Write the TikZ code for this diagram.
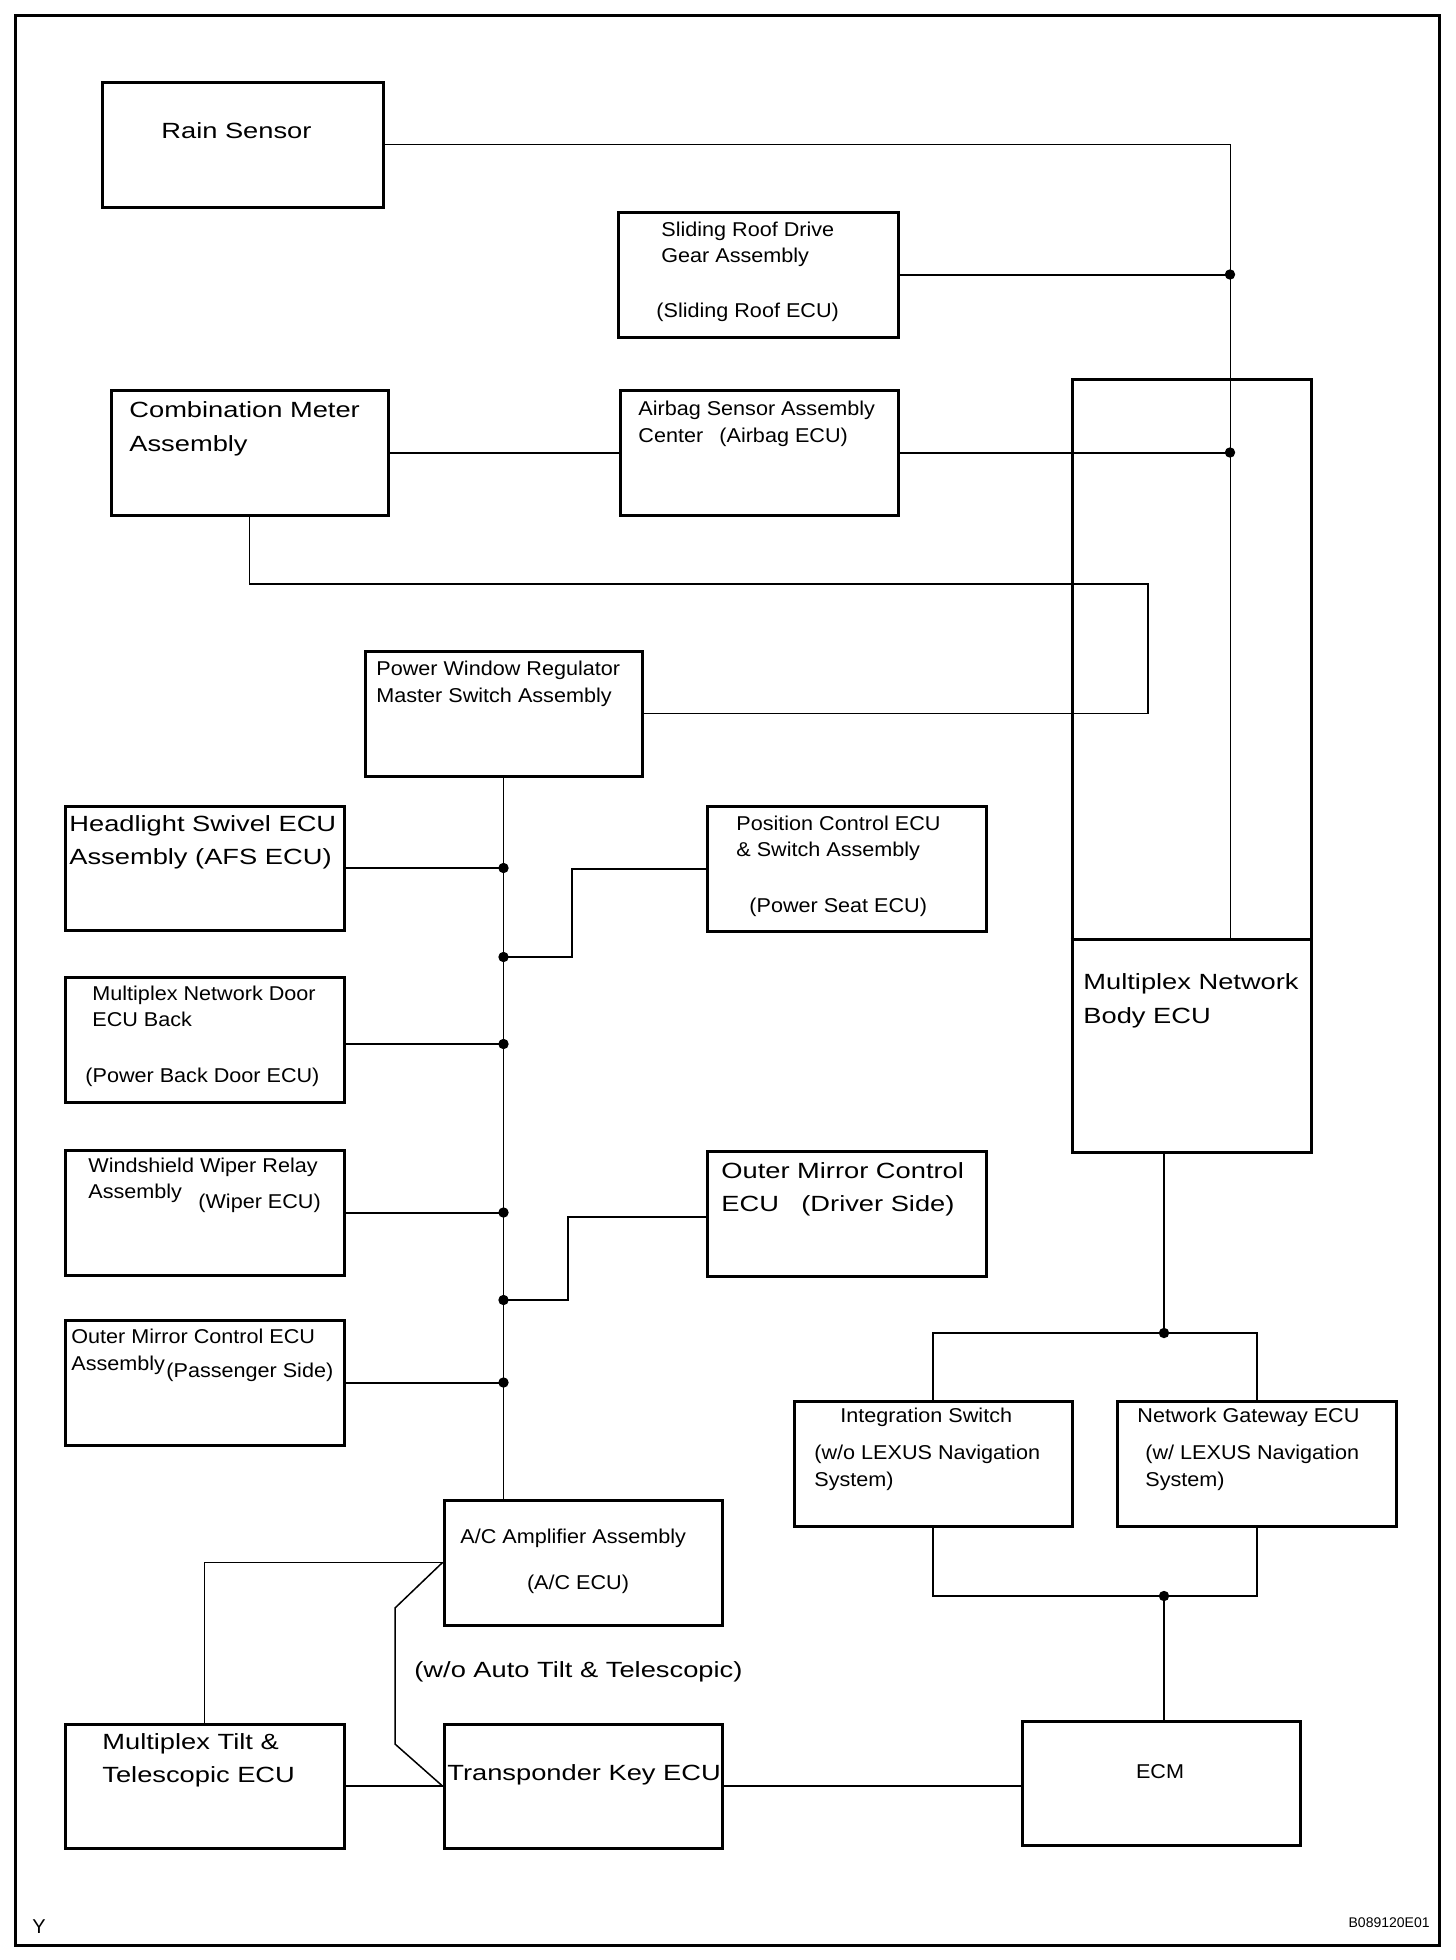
\documentclass[tikz,border=0pt]{standalone}
\usepackage{fontspec}
\setmainfont{Liberation Sans}
\newfontfamily\smallf{Liberation Sans}[FakeStretch=1.08]
\newfontfamily\largef{Liberation Sans}[FakeStretch=1.24]
\usetikzlibrary{fit}
\tikzset{
  box/.style={draw, line width=1.5pt, inner sep=0pt},
  thinw/.style={line width=0.5pt},
  medw/.style={line width=1pt},
  smt/.style={font={\smallf\fontsize{10pt}{12pt}\selectfont}, anchor=base west, inner sep=0pt},
  lgt/.style={font={\largef\fontsize{11pt}{13pt}\selectfont}, anchor=base west, inner sep=0pt},
  dotc/.style={fill=black}
}
\newcommand\stx[4]{\node[smt] (#1) at (#2,#3+7) {#4};}
\newcommand\ltx[4]{\node[lgt] (#1) at (#2,#3+8) {#4};}
\newcommand\jdot[1]{\fill[dotc] (#1) circle (2.6pt);}
\begin{document}
\begin{tikzpicture}[x=0.5pt,y=-0.5pt]
\useasboundingbox (0,0) rectangle (1456,1960);
\draw[line width=1.5pt] (15,15) rectangle (1439,1945);
% boxes
\node[box, fit={(102,82) (383,207)}] (rain) {};
\node[box, fit={(618,212) (898,337)}] (slide) {};
\node[box, fit={(111,390) (388,515)}] (comb) {};
\node[box, fit={(620,390) (898,515)}] (airbag) {};
\node[box, fit={(1072,379) (1311,1152)}] (body) {};
\node[box, fit={(365,651) (642,776)}] (pw) {};
\node[box, fit={(65,806) (344,930)}] (head) {};
\node[box, fit={(707,806) (986,931)}] (pos) {};
\node[box, fit={(65,977) (344,1102)}] (door) {};
\node[box, fit={(65,1150) (344,1275)}] (wiper) {};
\node[box, fit={(707,1151) (986,1276)}] (omd) {};
\node[box, fit={(65,1320) (344,1445)}] (omp) {};
\node[box, fit={(444,1500) (722,1625)}] (ac) {};
\node[box, fit={(794,1401) (1072,1526)}] (integ) {};
\node[box, fit={(1117,1401) (1396,1526)}] (gate) {};
\node[box, fit={(65,1724) (344,1848)}] (tilt) {};
\node[box, fit={(444,1724) (722,1848)}] (trans) {};
\node[box, fit={(1022,1721) (1300,1845)}] (ecm) {};
% coordinates
\coordinate (split) at (1190,939);
\coordinate (vtop) at (1230,939);
\coordinate (c1) at (1148,584);
\coordinate (pj) at (572,957);
\coordinate (dj) at (300,1044);
\coordinate (oy) at (800,1217);
\coordinate (oj) at (568,1300);
\coordinate (bj) at (1164,1333);
\coordinate (ej) at (1164,1596);
\coordinate (d1) at (395,1608);
\coordinate (d2) at (395,1744);
% body split line
\draw[line width=1.5pt] (body.west |- split) -- (body.east |- split);
% connectors
\draw[thinw] (rain.east) -| (vtop);
\draw[medw] (slide.east) -- (slide.east -| vtop);
\draw[medw] (comb.east) -- (airbag.west);
\draw[medw] (airbag.east) -- (airbag.east -| vtop);
\draw[line width=0.75pt] (comb.south) |- (c1) |- (pw.east);
\draw[thinw] (pw.south) -- (pw.south |- ac.north);
\draw[medw] (head.east) -- (head.east -| pw.south);
\draw[medw] (pos.west) -| (pj) -- (pj -| pw.south);
\draw[medw] (door.east |- dj) -- (dj -| pw.south);
\draw[medw] (wiper.east) -- (wiper.east -| pw.south);
\draw[medw] (omd.west |- oy) -| (oj) -- (oj -| pw.south);
\draw[medw] (omp.east) -- (omp.east -| pw.south);
\draw[medw] (body.south -| bj) -- (bj);
\draw[medw] (integ.north) |- (bj) -| (gate.north);
\draw[medw] (integ.south) |- (ej) -| (gate.south);
\draw[medw] (ej) -- (ej |- ecm.north);
\draw[thinw] (tilt.north) |- (ac.west);
\draw[line width=0.75pt] (ac.west) -- (d1) -- (d2) -- (trans.west);
\draw[medw] (tilt.east) -- (trans.west);
\draw[medw] (trans.east) -- (trans.east -| ecm.west);
% dots
\jdot{slide.east -| vtop}
\jdot{airbag.east -| vtop}
\jdot{head.east -| pw.south}
\jdot{pj -| pw.south}
\jdot{dj -| pw.south}
\jdot{wiper.east -| pw.south}
\jdot{oj -| pw.south}
\jdot{omp.east -| pw.south}
\jdot{bj}
\jdot{ej}
% texts
\ltx{t1}{161}{130}{Rain Sensor}
\stx{t2}{661}{229}{Sliding Roof Drive}
\stx{t3}{661}{255}{Gear Assembly}
\stx{t4}{656}{310}{(Sliding Roof ECU)}
\ltx{t5}{129}{409}{Combination Meter}
\ltx{t6}{129}{443}{Assembly}
\stx{t7}{638}{408}{Airbag Sensor Assembly}
\stx{t8}{638}{435}{Center}
\stx{t9}{719}{435}{(Airbag ECU)}
\ltx{t10}{1083}{981}{Multiplex Network}
\ltx{t11}{1083}{1015}{Body ECU}
\stx{t12}{376}{668}{Power Window Regulator}
\stx{t13}{376}{695}{Master Switch Assembly}
\ltx{t14}{69}{823}{Headlight Swivel ECU}
\ltx{t15}{69}{856}{Assembly (AFS ECU)}
\stx{t16}{736}{823}{Position Control ECU}
\stx{t17}{736}{849}{\& Switch Assembly}
\stx{t18}{749}{905}{(Power Seat ECU)}
\stx{t19}{92}{993}{Multiplex Network Door}
\stx{t20}{92}{1019}{ECU Back}
\stx{t21}{85}{1075}{(Power Back Door ECU)}
\stx{t22}{88}{1165}{Windshield Wiper Relay}
\stx{t23}{88}{1191}{Assembly}
\stx{t24}{198}{1201}{(Wiper ECU)}
\ltx{t25}{721}{1170}{Outer Mirror Control}
\ltx{t26}{721}{1203}{ECU}
\ltx{t27}{801}{1203}{(Driver Side)}
\stx{t28}{71}{1336}{Outer Mirror Control ECU}
\stx{t29}{71}{1363}{Assembly}
\stx{t30}{166}{1370}{(Passenger Side)}
\stx{t31}{460}{1536}{A/C Amplifier Assembly}
\node[smt, anchor=base] (t32) at (578,1589) {(A/C ECU)};
\ltx{t33}{414}{1669}{(w/o Auto Tilt \& Telescopic)}
\stx{t34}{840}{1415}{Integration Switch}
\stx{t35}{814}{1452}{(w/o LEXUS Navigation}
\stx{t36}{814}{1479}{System)}
\stx{t37}{1137}{1415}{Network Gateway ECU}
\stx{t38}{1145}{1452}{(w/ LEXUS Navigation}
\stx{t39}{1145}{1479}{System)}
\ltx{t40}{102}{1741}{Multiplex Tilt \&}
\ltx{t41}{102}{1774}{Telescopic ECU}
\ltx{t42}{447}{1772}{Transponder Key ECU}
\node[smt, anchor=base] (t43) at (1160,1778) {ECM};
\node[font={\fontsize{10pt}{11pt}\selectfont}, anchor=base west, inner sep=0pt] (t44) at (32,1933) {Y};
\node[font={\fontsize{7pt}{8pt}\selectfont}, anchor=base east, inner sep=0pt] (t45) at (1430,1927) {B089120E01};
\end{tikzpicture}
\end{document}
